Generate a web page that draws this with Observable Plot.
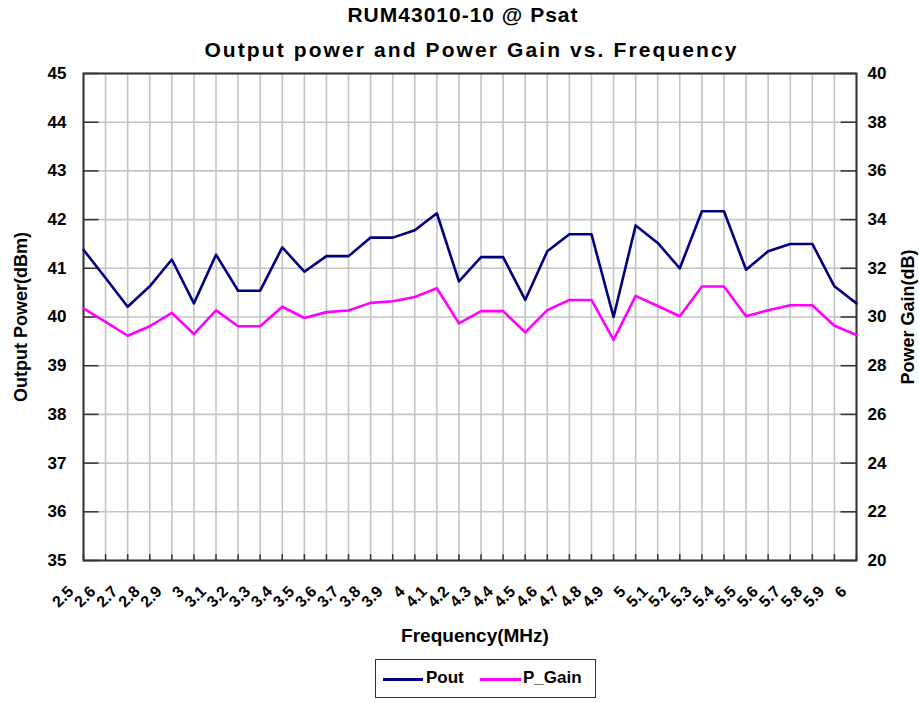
<!DOCTYPE html>
<html>
<head>
<meta charset="utf-8">
<script src="https://cdn.jsdelivr.net/npm/d3@7"></script>
<script src="https://cdn.jsdelivr.net/npm/@observablehq/plot@0.6"></script>
<style>
  html, body { margin: 0; padding: 0; background: #fff; }
  #wrap { position: relative; width: 919px; height: 703px; overflow: hidden; font-family: "Liberation Sans", Arial, sans-serif; font-weight: bold; color: #000; }
  .title { position: absolute; left: 0; text-align: center; font-size: 21px; white-space: nowrap; line-height: 24px; }
  #chart { position: absolute; left: 0; top: 62px; }
  #legend { position: absolute; left: 375px; top: 659px; width: 221px; height: 39px; border: 1.5px solid #333; box-sizing: border-box; font-size: 17px; }
  #legend .sw { position: absolute; top: 18px; height: 3px; }
  #legend .lb { position: absolute; top: 8px; }
</style>
</head>
<body>
<div id="wrap">
  <div class="title" style="top:3px;width:926px;letter-spacing:1px;">RUM43010-10 @ Psat</div>
  <div class="title" style="top:38px;width:943px;letter-spacing:2.1px;">Output power and Power Gain vs. Frequency</div>
  <div id="chart"></div>
  <div id="legend">
    <div class="sw" style="left:7px;width:40px;background:#000080;"></div>
    <div class="lb" style="left:50px;">Pout</div>
    <div class="sw" style="left:104px;width:41px;background:#ff00ff;"></div>
    <div class="lb" style="left:147px;">P_Gain</div>
  </div>
</div>
<script>
const freq = [2.5,2.6,2.7,2.8,2.9,3,3.1,3.2,3.3,3.4,3.5,3.6,3.7,3.8,3.9,4,4.1,4.2,4.3,4.4,4.5,4.6,4.7,4.8,4.9,5,5.1,5.2,5.3,5.4,5.5,5.6,5.7,5.8,5.9,6];
const pout = [41.38,40.8,40.21,40.63,41.18,40.28,41.28,40.54,40.54,41.43,40.93,41.25,41.25,41.63,41.63,41.78,42.13,40.73,41.23,41.23,40.35,41.35,41.7,41.7,40.0,41.88,41.52,41.0,42.17,42.17,40.97,41.35,41.5,41.5,40.63,40.28];
const gain = [30.35,29.8,29.23,29.62,30.17,29.3,30.27,29.62,29.62,30.42,29.96,30.2,30.27,30.58,30.65,30.82,31.18,29.74,30.24,30.24,29.37,30.28,30.7,30.7,29.06,30.87,30.45,30.03,31.25,31.25,30.03,30.28,30.48,30.48,29.64,29.26];
const leftTicks = [35,36,37,38,39,40,41,42,43,44,45];
const rightTicks = [20,22,24,26,28,30,32,34,36,38,40];

const toLeft = g => 35 + (g - 20) / 2;
const data = freq.map((f, i) => ({f, pout: pout[i], gain: toLeft(gain[i])}));
const font = "Liberation Sans, Arial, sans-serif";

const chart = Plot.plot({
  width: 919,
  height: 590,
  marginLeft: 83,
  marginRight: 63,
  marginTop: 11,
  marginBottom: 92,
  style: {fontFamily: font, fontWeight: "bold", fontSize: "17px", color: "#000", background: "transparent"},
  x: {domain: [2.5, 6], axis: null},
  y: {domain: [35, 45], axis: null},
  marks: [
    Plot.gridX(freq, {stroke: "#c4c4c4", strokeOpacity: 1, strokeWidth: 1.6}),
    Plot.gridY(leftTicks, {stroke: "#c4c4c4", strokeOpacity: 1, strokeWidth: 1.6}),
    Plot.ruleY(leftTicks, {y: d => d, x1: 2.5, x2: 2.57, stroke: "#333", strokeWidth: 1.5}),
    Plot.ruleY(leftTicks, {y: d => d, x1: 5.93, x2: 6, stroke: "#333", strokeWidth: 1.5}),
    Plot.ruleX(freq, {x: d => d, y1: 35, y2: 35.12, stroke: "#333", strokeWidth: 1.5}),
    Plot.frame({stroke: "#333", strokeWidth: 2}),
    Plot.line(data, {x: "f", y: "pout", stroke: "#000080", strokeWidth: 2.6}),
    Plot.line(data, {x: "f", y: "gain", stroke: "#ff00ff", strokeWidth: 2.6}),
    Plot.axisY({ticks: leftTicks, tickSize: 0, tickPadding: 17, fontSize: 17, fontWeight: "bold", label: null}),
    Plot.axisY({anchor: "right", ticks: leftTicks, tickFormat: (d, i) => String(rightTicks[i]), tickSize: 0, tickPadding: 11, fontSize: 17, fontWeight: "bold", label: null}),
    Plot.text(freq, {x: d => d, frameAnchor: "bottom", text: d => String(d), rotate: -45, textAnchor: "end", dx: -9, dy: 32, fontSize: 16, fontWeight: "bold", fill: "#000"}),
    Plot.text(["Output Power(dBm)"], {frameAnchor: "left", textAnchor: "middle", dx: -62, rotate: -90, fontSize: 18, fontWeight: "bold", fill: "#000"}),
    Plot.text(["Power Gain(dB)"], {frameAnchor: "right", textAnchor: "middle", dx: 52, rotate: -90, fontSize: 18, fontWeight: "bold", fill: "#000", letterSpacing: "0.8px"}),
    Plot.text(["Frequency(MHz)"], {frameAnchor: "bottom", dy: 81, dx: 5, fontSize: 19, fontWeight: "bold", fill: "#000"})
  ]
});
document.getElementById("chart").appendChild(chart);
</script>
</body>
</html>
